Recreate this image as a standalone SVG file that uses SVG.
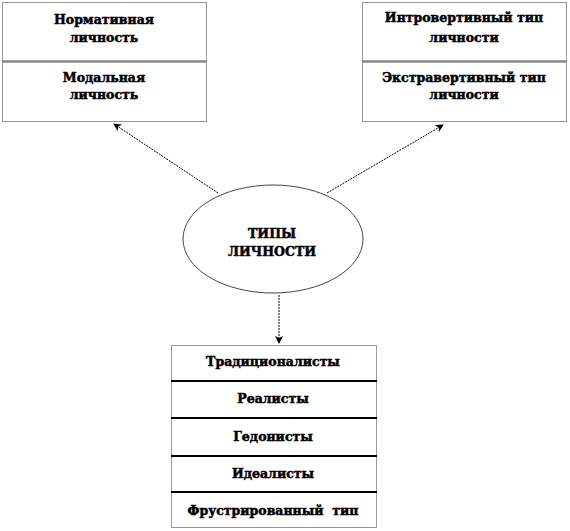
<svg xmlns="http://www.w3.org/2000/svg" width="570" height="531" viewBox="0 0 570 531">
<style>
.box{fill:#fff;stroke:#333;stroke-width:1;stroke-dasharray:1,1}
.gdiv{stroke:#888;stroke-width:2.5}
.bdiv{stroke:#000;stroke-width:2}
.t{font-family:"DejaVu Serif","Liberation Serif",serif;font-weight:bold;font-size:12.5px;text-anchor:middle;fill:#000;stroke:#000;stroke-width:0.5}
.conn{stroke:#000;stroke-width:1;fill:none;stroke-dasharray:2,1}
</style>
<defs>
<marker id="ah" markerWidth="8" markerHeight="8" refX="7" refY="4" orient="auto" markerUnits="userSpaceOnUse">
<path d="M0,0 L8,4 L0,8 L2,4 z" fill="#000"/>
</marker>
</defs>
<g id="left-box">
<rect class="box" x="2.5" y="2.5" width="204" height="119"/>
<line class="gdiv" x1="2" y1="61.5" x2="207" y2="61.5"/>
<text class="t" x="104" y="24">Нормативная</text>
<text class="t" x="104" y="42">личность</text>
<text class="t" x="104" y="82">Модальная</text>
<text class="t" x="104" y="99">личность</text>
</g>
<g id="right-box">
<rect class="box" x="362.5" y="2.5" width="204" height="119"/>
<line class="gdiv" x1="362" y1="61.5" x2="567" y2="61.5"/>
<text class="t" x="464" y="22">Интровертивный тип</text>
<text class="t" x="464" y="42">личности</text>
<text class="t" x="464" y="82">Экстравертивный тип</text>
<text class="t" x="464" y="99">личности</text>
</g>
<g id="center">
<ellipse cx="273" cy="239" rx="90" ry="54" fill="#fff" stroke="#444" stroke-width="1"/>
<text class="t" x="272" y="238">ТИПЫ</text>
<text class="t" x="272" y="256">ЛИЧНОСТИ</text>
</g>
<g id="bottom-box">
<rect class="box" x="171.5" y="345.5" width="205" height="182"/>
<line class="bdiv" x1="171" y1="381" x2="377" y2="381"/>
<line class="bdiv" x1="171" y1="418" x2="377" y2="418"/>
<line class="bdiv" x1="171" y1="456" x2="377" y2="456"/>
<line class="bdiv" x1="171" y1="492" x2="377" y2="492"/>
<text class="t" x="273" y="366">Традиционалисты</text>
<text class="t" x="273" y="403">Реалисты</text>
<text class="t" x="273" y="441">Гедонисты</text>
<text class="t" x="273" y="478">Идеалисты</text>
<text class="t" x="273" y="515" xml:space="preserve">Фрустрированный  тип</text>
</g>
<g id="connectors">
<line class="conn" x1="218" y1="193" x2="114" y2="124" marker-end="url(#ah)"/>
<line class="conn" x1="327" y1="193" x2="443" y2="125" marker-end="url(#ah)"/>
<line class="conn" x1="279" y1="295" x2="279" y2="343" marker-end="url(#ah)"/>
</g>
</svg>
